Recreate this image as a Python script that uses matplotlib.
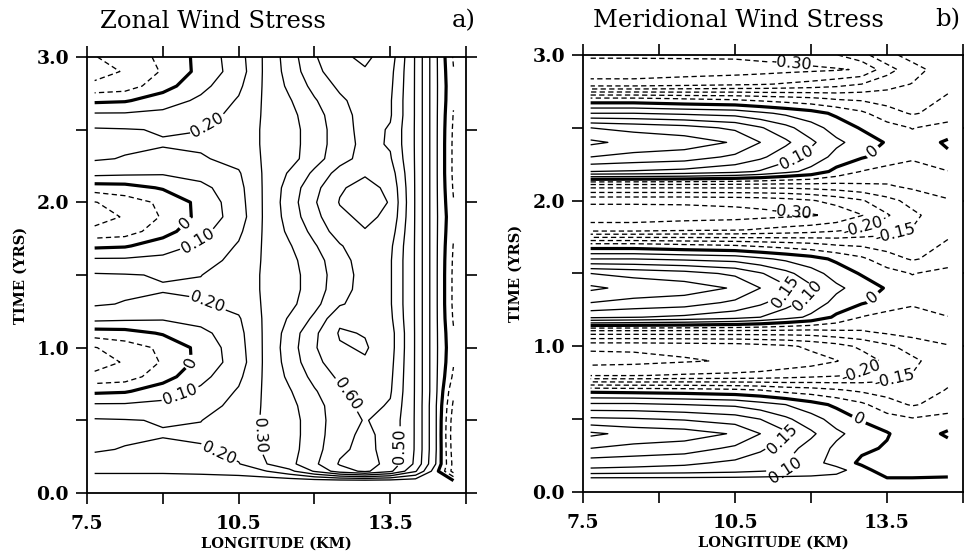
import numpy as np
import matplotlib.pyplot as plt

plt.rcParams['font.family'] = 'DejaVu Serif'

# ---- zonal wind stress (panel a) ----
lon_u = [7.65, 8.25, 9.0, 9.75, 10.5, 11.0, 11.5, 12.0, 12.5, 13.0, 13.5, 14.0, 14.4, 14.75]
time_u = [0.08, 0.15, 0.2, 0.3, 0.4, 0.5, 0.6, 0.7, 0.8, 0.9, 1.0,
          1.1, 1.2, 1.3, 1.4, 1.5, 1.6, 1.7, 1.8, 1.9, 2.0,
          2.1, 2.2, 2.3, 2.4, 2.5, 2.6, 2.7, 2.8, 2.9, 3.0]
zonal = np.array([
    [0.03, 0.03, 0.03, 0.03, 0.03, 0.03, 0.03, 0.03, 0.03, 0.03, 0.03, 0.03, 0.02, 0.02],
    [0.12, 0.12, 0.12, 0.13, 0.15, 0.19, 0.27, 0.41, 0.55, 0.62, 0.52, 0.31, 0.04, -0.24],
    [0.16, 0.16, 0.16, 0.17, 0.195, 0.29, 0.37, 0.48, 0.61, 0.64, 0.57, 0.38, 0.10, -0.23],
    [0.21, 0.195, 0.18, 0.19, 0.23, 0.31, 0.36, 0.46, 0.58, 0.63, 0.56, 0.39, 0.11, -0.25],
    [0.23, 0.215, 0.205, 0.215, 0.25, 0.31, 0.36, 0.45, 0.57, 0.62, 0.57, 0.39, 0.11, -0.26],
    [0.21, 0.205, 0.195, 0.198, 0.25, 0.31, 0.36, 0.45, 0.56, 0.605, 0.57, 0.39, 0.11, -0.25],
    [0.12, 0.12, 0.13, 0.16, 0.23, 0.31, 0.37, 0.46, 0.56, 0.63, 0.59, 0.39, 0.11, -0.22],
    [-0.02, -0.01, 0.05, 0.12, 0.21, 0.31, 0.39, 0.49, 0.58, 0.65, 0.61, 0.39, 0.12, -0.18],
    [-0.17, -0.15, -0.04, 0.07, 0.18, 0.31, 0.42, 0.53, 0.62, 0.67, 0.62, 0.39, 0.12, -0.12],
    [-0.25, -0.19, -0.09, 0.03, 0.15, 0.31, 0.44, 0.57, 0.66, 0.69, 0.63, 0.39, 0.12, -0.09],
    [-0.205, -0.15, -0.08, 0.03, 0.16, 0.31, 0.45, 0.59, 0.69, 0.71, 0.64, 0.39, 0.12, -0.08],
    [-0.05, -0.04, 0.01, 0.07, 0.17, 0.31, 0.44, 0.58, 0.71, 0.695, 0.64, 0.39, 0.12, -0.09],
    [0.13, 0.12, 0.11, 0.14, 0.19, 0.31, 0.41, 0.52, 0.68, 0.66, 0.62, 0.39, 0.12, -0.11],
    [0.21, 0.195, 0.18, 0.19, 0.23, 0.31, 0.37, 0.47, 0.59, 0.64, 0.61, 0.39, 0.12, -0.12],
    [0.23, 0.215, 0.205, 0.215, 0.25, 0.31, 0.36, 0.45, 0.56, 0.64, 0.61, 0.39, 0.12, -0.12],
    [0.21, 0.205, 0.195, 0.198, 0.25, 0.31, 0.36, 0.45, 0.55, 0.64, 0.61, 0.39, 0.12, -0.12],
    [0.12, 0.12, 0.13, 0.16, 0.23, 0.31, 0.37, 0.46, 0.56, 0.65, 0.61, 0.39, 0.12, -0.115],
    [-0.02, -0.01, 0.05, 0.12, 0.21, 0.31, 0.39, 0.49, 0.59, 0.67, 0.62, 0.39, 0.12, -0.105],
    [-0.17, -0.15, -0.04, 0.07, 0.18, 0.31, 0.42, 0.53, 0.65, 0.695, 0.65, 0.39, 0.12, -0.09],
    [-0.25, -0.19, -0.09, 0.03, 0.15, 0.31, 0.44, 0.57, 0.68, 0.72, 0.68, 0.39, 0.12, -0.08],
    [-0.205, -0.15, -0.08, 0.03, 0.16, 0.31, 0.45, 0.59, 0.705, 0.74, 0.695, 0.39, 0.12, -0.095],
    [-0.05, -0.04, 0.01, 0.07, 0.17, 0.31, 0.44, 0.57, 0.69, 0.73, 0.68, 0.39, 0.12, -0.11],
    [0.13, 0.12, 0.11, 0.14, 0.19, 0.31, 0.41, 0.52, 0.64, 0.69, 0.65, 0.39, 0.12, -0.12],
    [0.21, 0.195, 0.18, 0.19, 0.23, 0.31, 0.36, 0.46, 0.56, 0.64, 0.61, 0.39, 0.12, -0.12],
    [0.23, 0.215, 0.205, 0.215, 0.25, 0.31, 0.36, 0.45, 0.55, 0.63, 0.59, 0.39, 0.12, -0.12],
    [0.21, 0.205, 0.195, 0.198, 0.25, 0.31, 0.36, 0.45, 0.55, 0.64, 0.59, 0.39, 0.12, -0.115],
    [0.12, 0.12, 0.13, 0.16, 0.23, 0.31, 0.37, 0.46, 0.56, 0.64, 0.61, 0.39, 0.12, -0.105],
    [-0.02, -0.01, 0.05, 0.12, 0.21, 0.31, 0.39, 0.49, 0.58, 0.65, 0.61, 0.39, 0.12, -0.09],
    [-0.17, -0.15, -0.04, 0.07, 0.18, 0.31, 0.42, 0.53, 0.62, 0.67, 0.62, 0.39, 0.12, -0.085],
    [-0.25, -0.19, -0.09, 0.03, 0.15, 0.31, 0.44, 0.57, 0.66, 0.69, 0.63, 0.39, 0.12, -0.095],
    [-0.205, -0.15, -0.08, 0.03, 0.16, 0.31, 0.45, 0.59, 0.68, 0.72, 0.65, 0.39, 0.12, -0.11],
])
levels_u = [-0.3, -0.2, -0.1, 0.0, 0.1, 0.2, 0.3, 0.4, 0.5, 0.6, 0.7]
labels_u = [(0.2, 9.9, 2.52), (0.0, 9.6, 1.8), (0.1, 9.8, 1.66), (0.2, 10.0, 1.38),
            (0.0, 9.55, 0.9), (0.1, 9.4, 0.62), (0.2, 10.1, 0.27), (0.3, 10.95, 0.4),
            (0.6, 12.65, 0.68), (0.5, 13.68, 0.32)]

# ---- meridional wind stress (panel b) ----
lon_v = [7.65, 8.5, 9.5, 10.5, 11.0, 11.5, 12.0, 12.5, 13.0, 13.5, 14.0, 14.7]
time_v = [0.08, 0.15, 0.2, 0.3, 0.4, 0.5, 0.6, 0.7, 0.8, 0.9, 1.0,
          1.1, 1.2, 1.3, 1.4, 1.5, 1.6, 1.7, 1.8, 1.9, 2.0,
          2.1, 2.2, 2.3, 2.4, 2.5, 2.6, 2.7, 2.8, 2.9, 3.0]
merid = np.array([
    [0.02, 0.02, 0.02, 0.02, 0.02, 0.02, 0.02, 0.02, 0.02, 0.01, 0.01, 0.01],
    [0.14, 0.135, 0.13, 0.12, 0.11, 0.10, 0.09, 0.07, 0.02, -0.03, -0.03, -0.02],
    [0.175, 0.17, 0.16, 0.14, 0.12, 0.10, 0.07, 0.03, -0.01, -0.035, -0.04, -0.03],
    [0.25, 0.235, 0.225, 0.19, 0.16, 0.12, 0.08, 0.04, 0.01, -0.005, -0.035, -0.02],
    [0.31, 0.285, 0.275, 0.245, 0.20, 0.16, 0.11, 0.06, 0.03, 0.004, -0.03, 0.008],
    [0.21, 0.205, 0.195, 0.175, 0.15, 0.11, 0.07, 0.03, -0.005, -0.03, -0.045, -0.03],
    [0.11, 0.11, 0.10, 0.09, 0.07, 0.05, 0.02, -0.01, -0.04, -0.08, -0.105, -0.08],
    [-0.02, -0.025, -0.03, -0.04, -0.05, -0.07, -0.08, -0.095, -0.11, -0.12, -0.12, -0.098],
    [-0.252, -0.252, -0.245, -0.24, -0.235, -0.225, -0.215, -0.205, -0.19, -0.17, -0.148, -0.11],
    [-0.32, -0.315, -0.305, -0.295, -0.29, -0.28, -0.27, -0.252, -0.225, -0.19, -0.16, -0.12],
    [-0.29, -0.29, -0.285, -0.28, -0.27, -0.26, -0.24, -0.22, -0.19, -0.16, -0.13, -0.105],
    [-0.12, -0.12, -0.12, -0.12, -0.12, -0.12, -0.12, -0.11, -0.105, -0.09, -0.08, -0.06],
    [0.16, 0.152, 0.14, 0.12, 0.10, 0.07, 0.04, -0.01, -0.052, -0.07, -0.08, -0.052],
    [0.25, 0.235, 0.225, 0.19, 0.16, 0.12, 0.08, 0.035, 0.005, -0.02, -0.04, -0.02],
    [0.31, 0.285, 0.275, 0.245, 0.20, 0.16, 0.11, 0.06, 0.03, -0.005, -0.03, -0.008],
    [0.25, 0.235, 0.22, 0.19, 0.155, 0.115, 0.07, 0.03, -0.005, -0.03, -0.052, -0.03],
    [0.10, 0.10, 0.09, 0.08, 0.06, 0.04, 0.02, -0.01, -0.04, -0.08, -0.105, -0.08],
    [-0.04, -0.04, -0.052, -0.06, -0.07, -0.08, -0.09, -0.105, -0.11, -0.12, -0.12, -0.095],
    [-0.27, -0.27, -0.26, -0.255, -0.245, -0.235, -0.225, -0.21, -0.19, -0.17, -0.148, -0.11],
    [-0.33, -0.33, -0.325, -0.32, -0.315, -0.31, -0.305, -0.29, -0.252, -0.205, -0.16, -0.12],
    [-0.29, -0.29, -0.29, -0.285, -0.28, -0.27, -0.255, -0.23, -0.205, -0.165, -0.135, -0.105],
    [-0.13, -0.13, -0.13, -0.13, -0.13, -0.13, -0.125, -0.12, -0.11, -0.105, -0.09, -0.07],
    [0.15, 0.145, 0.135, 0.115, 0.095, 0.065, 0.035, -0.015, -0.052, -0.07, -0.08, -0.052],
    [0.25, 0.235, 0.225, 0.19, 0.16, 0.12, 0.08, 0.035, 0.005, -0.02, -0.04, -0.01],
    [0.31, 0.285, 0.275, 0.245, 0.20, 0.16, 0.11, 0.06, 0.03, -0.005, -0.03, 0.008],
    [0.25, 0.235, 0.22, 0.19, 0.155, 0.115, 0.07, 0.03, -0.005, -0.03, -0.052, -0.03],
    [0.10, 0.10, 0.09, 0.08, 0.06, 0.04, 0.02, -0.01, -0.04, -0.08, -0.105, -0.08],
    [-0.04, -0.04, -0.052, -0.06, -0.07, -0.08, -0.09, -0.105, -0.11, -0.12, -0.12, -0.095],
    [-0.28, -0.28, -0.27, -0.26, -0.255, -0.245, -0.235, -0.22, -0.2, -0.17, -0.148, -0.11],
    [-0.335, -0.335, -0.33, -0.325, -0.32, -0.315, -0.31, -0.305, -0.295, -0.22, -0.17, -0.12],
    [-0.29, -0.29, -0.29, -0.29, -0.285, -0.28, -0.27, -0.252, -0.215, -0.165, -0.13, -0.105],
])
levels_v = [-0.35, -0.3, -0.25, -0.2, -0.15, -0.1, -0.05, 0.0,
            0.05, 0.1, 0.15, 0.2, 0.25, 0.3, 0.35]
labels_v = [(-0.3, 11.6, 2.93), (0.1, 11.8, 2.22), (0.0, 13.3, 2.3),
            (-0.3, 11.6, 1.93), (-0.2, 13.0, 1.85), (-0.15, 13.6, 1.87),
            (0.15, 11.6, 1.3), (0.1, 12.1, 1.27), (0.0, 13.3, 1.3),
            (-0.2, 13.0, 0.82), (-0.15, 13.6, 0.84), (0.0, 12.95, 0.5),
            (0.15, 11.5, 0.32), (0.1, 11.9, 0.12)]


def fmt(v):
    return '0' if abs(v) < 1e-9 else '%.2f' % v


def panel(ax, lon, time, z, levels, labels):
    sets = {}
    for lev in levels:
        if lev < 0:
            ls, lw = [(0, (4, 2.5))], 0.95
        elif lev == 0:
            ls, lw = 'solid', 2.3
        else:
            ls, lw = 'solid', 0.95
        sets[lev] = ax.contour(lon, time, z, levels=[lev], colors='k',
                               linewidths=lw, linestyles=ls)
    for lev, cs in sets.items():
        pts = [(x, y) for v, x, y in labels if v == lev]
        if pts:
            txt = cs.clabel(manual=pts, inline=True, fmt=fmt, fontsize=11.5,
                            inline_spacing=3)
            for t in txt:
                t.set_fontfamily('DejaVu Sans')

    ax.set_xlim(7.5, 15.0)
    ax.set_ylim(0, 3.0)
    ax.set_xticks([7.5, 9.0, 10.5, 12.0, 13.5, 15.0])
    ax.set_xticklabels(['7.5', '', '10.5', '', '13.5', ''], fontweight='bold')
    ax.set_yticks([0, 0.5, 1.0, 1.5, 2.0, 2.5, 3.0])
    ax.set_yticklabels(['0.0', '', '1.0', '', '2.0', '', '3.0'], fontweight='bold')
    ax.tick_params(direction='out', length=8, width=1.2, top=True, right=True,
                   labelsize=13.5)
    ax.tick_params(axis='x', pad=8)
    ax.tick_params(axis='y', pad=5)
    for s in ax.spines.values():
        s.set_linewidth(1.3)
    ax.set_xlabel('LONGITUDE (KM)', fontsize=10.5, fontweight='bold')
    ax.set_ylabel('TIME (YRS)', fontsize=10.5, fontweight='bold')
    ax.xaxis.set_label_coords(0.5, -0.1)
    ax.yaxis.set_label_coords(-0.158, 0.5)


fig = plt.figure(figsize=(9.64, 5.57), dpi=100)
ax1 = fig.add_axes([0.0903, 0.1149, 0.3932, 0.7828])
ax2 = fig.add_axes([0.6048, 0.1167, 0.3942, 0.7846])

panel(ax1, lon_u, time_u, zonal, levels_u, labels_u)
panel(ax2, lon_v, time_v, merid, levels_v, labels_v)

fig.text(0.1037, 0.962, 'Zonal Wind Stress', fontsize=17.5, ha='left', va='center')
fig.text(0.493, 0.962, 'a)', fontsize=17.5, ha='right', va='center')
fig.text(0.615, 0.964, 'Meridional Wind Stress', fontsize=17.5, ha='left', va='center')
fig.text(0.996, 0.964, 'b)', fontsize=17.5, ha='right', va='center')

fig.savefig('out.png', dpi=100)
